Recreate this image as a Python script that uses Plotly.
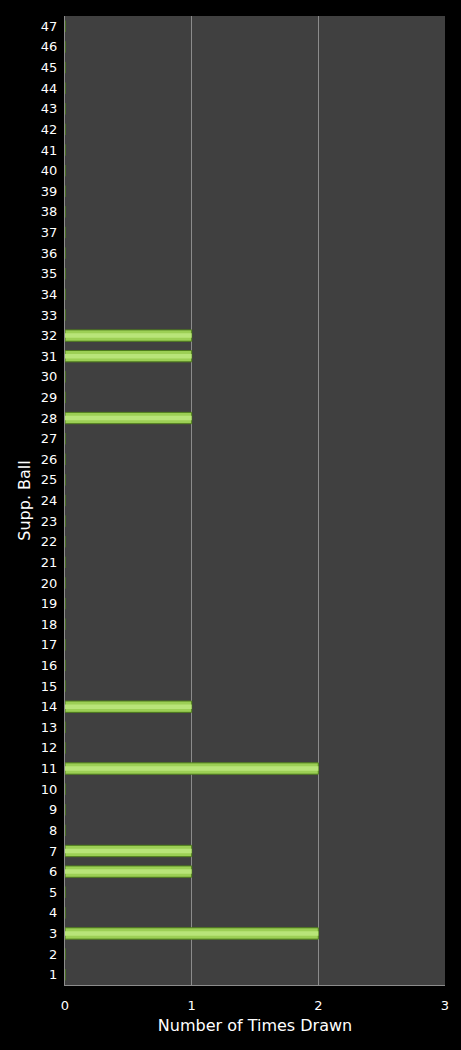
import plotly.graph_objects as go

# supplementary ball numbers and how often each was drawn
balls = list(range(1, 48))
drawn_balls = [3, 6, 7, 11, 14, 28, 31, 32]
drawn_counts = [2, 1, 1, 2, 1, 1, 1, 1]
x_ticks = [0, 1, 2, 3]

counts = [0] * len(balls)
for b, c in zip(drawn_balls, drawn_counts):
    counts[balls.index(b)] = c

fig = go.Figure()
fig.add_trace(go.Bar(
    x=counts, y=balls, orientation="h", width=0.55,
    marker=dict(color="#9ccf55", line=dict(color="#4f7d1c", width=1)),
    hoverinfo="x+y",
))
# lighter highlight along the middle of each bar
fig.add_trace(go.Bar(
    x=counts, y=balls, orientation="h", width=0.22,
    marker=dict(color="#b8e479", line=dict(width=0)),
    hoverinfo="skip",
))

fig.update_layout(
    width=461, height=1050,
    barmode="overlay", showlegend=False,
    paper_bgcolor="#000000", plot_bgcolor="#404040",
    margin=dict(l=65, r=16, t=16, b=65),
    font=dict(family="DejaVu Sans, Verdana, sans-serif", color="#ffffff", size=13),
)
fig.update_xaxes(
    range=[0, 3], tickvals=x_ticks, showgrid=True, gridcolor="#8c8c8c", gridwidth=1,
    zeroline=False, showline=True, linecolor="#8c8c8c",
    ticks="outside", ticklen=8, tickcolor="rgba(0,0,0,0)",
    title=dict(text="Number of Times Drawn", font=dict(size=16), standoff=8),
)
fig.update_yaxes(
    range=[0.5, 47.5], tickvals=balls, showgrid=False, zeroline=False,
    showline=True, linecolor="#8c8c8c",
    ticks="outside", ticklen=4, tickcolor="rgba(0,0,0,0)",
    title=dict(text="Supp. Ball", font=dict(size=16), standoff=6),
)

# drop the page's default white margin so the black paper fills the window
fig.write_html(
    "out.html",
    config={"displayModeBar": False},
    post_script="document.body.style.margin='0';document.body.style.background='#000';",
)
